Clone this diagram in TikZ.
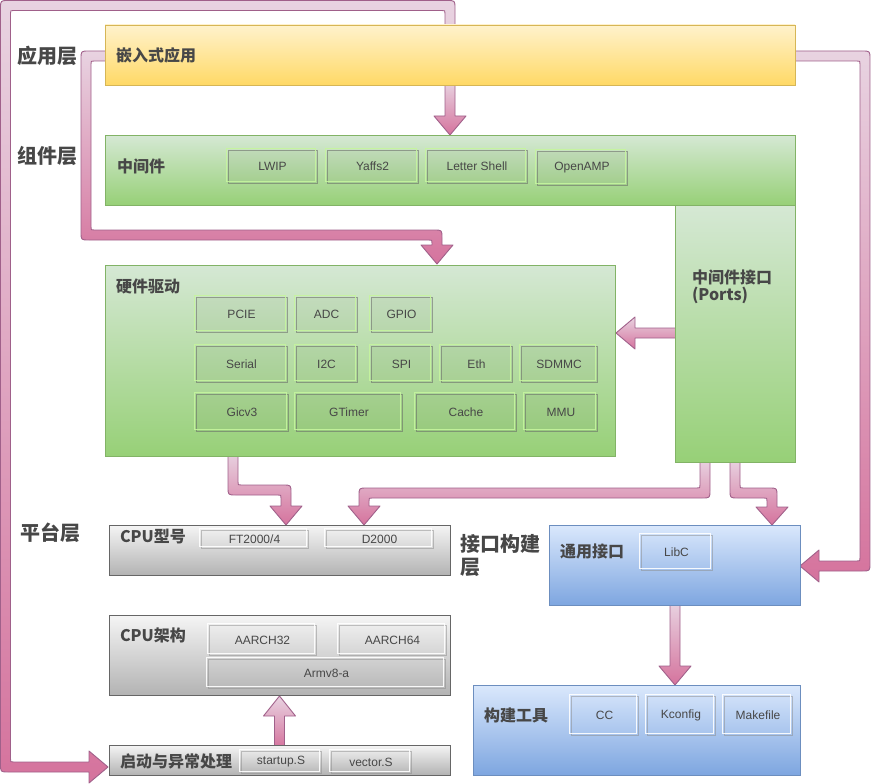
\documentclass[tikz,border=0pt]{standalone}
\usepackage{fontspec}
\setmainfont{Liberation Sans}
\newfontfamily\cjk{Noto Sans CJK SC}
\definecolor{txt}{HTML}{474747}
\definecolor{ylT}{HTML}{FFF2CC}\definecolor{ylB}{HTML}{FFD966}\definecolor{ylD}{HTML}{D6B656}
\definecolor{grT}{HTML}{D5E8D4}\definecolor{grB}{HTML}{97D077}\definecolor{grD}{HTML}{82B366}
\definecolor{gyT}{HTML}{F5F5F5}\definecolor{gyB}{HTML}{B3B3B3}\definecolor{gyD}{HTML}{666666}
\definecolor{blT}{HTML}{DAE8FC}\definecolor{blB}{HTML}{7EA6E0}\definecolor{blD}{HTML}{6C8EBF}
\definecolor{pkT}{HTML}{E8D3E1}\definecolor{pkB}{HTML}{D5739D}\definecolor{pkD}{HTML}{A0608A}
\definecolor{limeglow}{HTML}{C6F59E}
\newcommand\chipfont{\fontsize{12}{14}\selectfont}
% panel: style, name, x1, y1, x2, y2
\newcommand\panel[6]{%
  \node[#1, minimum width={#5-#3}, minimum height={#6-#4}] (#2) at ({(#3+#5)/2},{(#4+#6)/2}) {};}
% chip: style, glow colour, name, x1, y1, x2, y2, text
\newcommand\chip[8]{%
  \node[#1, minimum width={#6-#4}, minimum height={#7-#5}] (#3) at ({(#4+#6)/2},{(#5+#7)/2}) {#8};
  \draw[draw=#2, line width=1.1pt, draw opacity=0.9]
    ([xshift=-1.5pt,yshift=1.5pt]#3.north west) rectangle ([xshift=-1.5pt,yshift=1.5pt]#3.south east);}
\begin{document}
\begin{tikzpicture}[x=1pt,y=-1pt,
  flow/.style={top color=pkT, bottom color=pkB, draw=pkD, line width=0.9pt, line join=round},
  ypanel/.style={draw=ylD, top color=ylT, bottom color=ylB, line width=0.9pt, inner sep=0, outer sep=0},
  gpanel/.style={draw=grD, top color=grT, bottom color=grB, line width=0.9pt, inner sep=0, outer sep=0},
  ypanelg/.style={draw=gyD, top color=gyT, bottom color=gyB, line width=0.9pt, inner sep=0, outer sep=0},
  bpanel/.style={draw=blD, top color=blT, bottom color=blB, line width=0.9pt, inner sep=0, outer sep=0},
  chipbase/.style={inner sep=0, outer sep=0, font=\chipfont, text=txt, text opacity=1, line width=0.8pt},
  gchip/.style={chipbase, draw=black!60, draw opacity=0.55, fill=black, fill opacity=0.04},
  wchip/.style={chipbase, draw=black!45, draw opacity=0.5},
  lbl/.style={font=\cjk\bfseries\fontsize{16}{17}\selectfont, text=txt, inner sep=0, outer sep=0, anchor=base west},
  layer/.style={font=\cjk\bfseries\fontsize{20}{23}\selectfont, text=txt, inner sep=0, outer sep=0, anchor=base west},
]
\useasboundingbox (0,0) rectangle (871,784);

% ---- flow arrows (drawn first, panels sit on top of their tails) ----
% outer loop: application -> boot code
\path[flow] (445,28) -- (445,13.5) .. controls (445,10.5) .. (442,10.5)
  -- (13.5,10.5) .. controls (10.5,10.5) .. (10.5,13.5)
  -- (10.5,759) .. controls (10.5,762) .. (13.5,762)
  -- (89,762) -- (89,751) -- (108,767) -- (89,783) -- (89,772)
  -- (8.5,772) .. controls (0.5,772) .. (0.5,764)
  -- (0.5,8.5) .. controls (0.5,0.5) .. (8.5,0.5)
  -- (447,0.5) .. controls (455,0.5) .. (455,8.5)
  -- (455,28) -- cycle;
% application -> middleware
\path[flow] (445,82) -- (445,116) -- (434,116) -- (450,135) -- (466,116) -- (455,116) -- (455,82) -- cycle;
% application -> hardware drivers
\path[flow] (108,51) -- (89,51) .. controls (81,51) .. (81,59)
  -- (81,232) .. controls (81,240) .. (89,240)
  -- (429,240) .. controls (432,240) .. (432,243)
  -- (432,245) -- (421,245) -- (437,264) -- (453,245) -- (442,245)
  -- (442,238) .. controls (442,230) .. (434,230)
  -- (94,230) .. controls (91,230) .. (91,227)
  -- (91,64) .. controls (91,61) .. (94,61)
  -- (108,61) -- cycle;
% application -> common interface
\path[flow] (792,51) -- (862,51) .. controls (870,51) .. (870,59)
  -- (870,563) .. controls (870,571) .. (862,571)
  -- (819,571) -- (819,582) -- (800,566) -- (819,550) -- (819,561)
  -- (857,561) .. controls (860,561) .. (860,558)
  -- (860,64) .. controls (860,61) .. (857,61)
  -- (792,61) -- cycle;
% ports -> hardware drivers
\path[flow] (678,328) -- (635,328) -- (635,317) -- (616,333) -- (635,349) -- (635,338) -- (678,338) -- cycle;
% hardware drivers -> cpu model
\path[flow] (228,452) -- (228,487) .. controls (228,495) .. (236,495)
  -- (278,495) .. controls (281,495) .. (281,498)
  -- (281,506) -- (270,506) -- (286,525) -- (302,506) -- (291,506)
  -- (291,493) .. controls (291,485) .. (283,485)
  -- (241,485) .. controls (238,485) .. (238,482)
  -- (238,452) -- cycle;
% ports -> cpu model
\path[flow] (710,459) -- (710,490) .. controls (710,498) .. (702,498)
  -- (372,498) .. controls (369,498) .. (369,501)
  -- (369,506) -- (380,506) -- (364,525) -- (348,506) -- (359,506)
  -- (359,496) .. controls (359,488) .. (367,488)
  -- (697,488) .. controls (700,488) .. (700,485)
  -- (700,459) -- cycle;
% ports -> common interface
\path[flow] (730,459) -- (730,490) .. controls (730,498) .. (738,498)
  -- (764,498) .. controls (767,498) .. (767,501)
  -- (767,507) -- (756,507) -- (772,525) -- (788,507) -- (777,507)
  -- (777,496) .. controls (777,488) .. (769,488)
  -- (743,488) .. controls (740,488) .. (740,485)
  -- (740,459) -- cycle;
% common interface -> build tools
\path[flow] (670,602) -- (670,666) -- (659,666) -- (675,685) -- (691,666) -- (680,666) -- (680,602) -- cycle;
% boot code -> cpu architecture
\path[flow] (274.5,748) -- (274.5,716) -- (263.5,716) -- (279.5,696) -- (295.5,716) -- (284.5,716) -- (284.5,748) -- cycle;

% ---- panels ----
\panel{ypanel}{app}{105}{25}{795}{85}
\panel{gpanel}{mid}{105}{135}{795}{205}
\panel{gpanel}{ports}{675}{205}{795}{462}
\panel{gpanel}{hw}{105}{265}{615}{456}
\panel{ypanelg}{cpumodel}{109}{525}{450}{575}
\panel{ypanelg}{cpuarch}{109}{615}{450}{695}
\panel{ypanelg}{boot}{109}{745}{450}{775}
\panel{bpanel}{libif}{549}{525}{800}{605}
\panel{bpanel}{build}{473}{685}{800}{775}

% ---- layer titles ----
\node[layer] (lyapp) at (17,63.5) {应用层};
\node[layer] (lycomp) at (17,163.5) {组件层};
\node[layer] (lyplat) at (20,540.5) {平台层};
\node[layer, align=left] (lyif) at (460,574.5) {接口构建\\层};

% ---- panel titles ----
\node[lbl] (tapp) at (116,62) {嵌入式应用};
\node[lbl] (tmid) at (117,172) {中间件};
\node[lbl, align=left] (tports) at (692,300.5) {中间件接口\\(Ports)};
\node[lbl] (thw) at (116,292.5) {硬件驱动};
\node[lbl] (tmodel) at (120,542) {CPU型号};
\node[lbl] (tarch) at (120,641) {CPU架构};
\node[lbl] (tboot) at (120,767) {启动与异常处理};
\node[lbl] (tlib) at (560,557) {通用接口};
\node[lbl] (tbuild) at (484,721) {构建工具};

% ---- middleware components ----
\chip{gchip}{limeglow}{lwip}{228}{150}{317}{183}{LWIP}
\chip{gchip}{limeglow}{yaffs}{327}{150}{418}{183}{Yaffs2}
\chip{gchip}{limeglow}{lshell}{427}{150}{527}{183}{Letter Shell}
\chip{gchip}{limeglow}{oamp}{537}{151}{627}{185}{OpenAMP}

% ---- hardware drivers ----
\chip{gchip}{limeglow}{pcie}{196}{297}{287}{332}{PCIE}
\chip{gchip}{limeglow}{adc}{296}{297}{357}{332}{ADC}
\chip{gchip}{limeglow}{gpio}{371}{297}{432}{332}{GPIO}
\chip{gchip}{limeglow}{serial}{196}{346}{287}{382}{Serial}
\chip{gchip}{limeglow}{iic}{296}{346}{357}{382}{I2C}
\chip{gchip}{limeglow}{spi}{371}{346}{432}{382}{SPI}
\chip{gchip}{limeglow}{eth}{441}{346}{512}{382}{Eth}
\chip{gchip}{limeglow}{sdmmc}{521}{346}{597}{382}{SDMMC}
\chip{gchip}{limeglow}{gic}{196}{394}{288}{431}{Gicv3}
\chip{gchip}{limeglow}{gtimer}{296}{394}{402}{431}{GTimer}
\chip{gchip}{limeglow}{cache}{416}{394}{516}{431}{Cache}
\chip{gchip}{limeglow}{mmu}{525}{394}{597}{431}{MMU}

% ---- platform ----
\chip{wchip}{white}{ft}{201}{530}{308}{548}{FT2000/4}
\chip{wchip}{white}{dtk}{326}{530}{433}{548}{D2000}
\chip{wchip}{white}{a32}{209}{625}{316}{655}{AARCH32}
\chip{wchip}{white}{a64}{339}{625}{446}{655}{AARCH64}
\chip{wchip}{white}{armv}{208}{659}{445}{688}{Armv8-a}
\chip{wchip}{white}{startup}{241}{751}{321}{773}{startup.S}
\chip{wchip}{white}{vector}{331}{751}{411}{773}{vector.S}

% ---- interface / build ----
\chip{wchip}{white}{libc}{641}{535}{712}{570}{LibC}
\chip{wchip}{white}{cc}{571}{696}{638}{735}{CC}
\chip{wchip}{white}{kconfig}{647}{696}{715}{735}{Kconfig}
\chip{wchip}{white}{makefile}{724}{696}{792}{735}{Makefile}
\end{tikzpicture}
\end{document}
